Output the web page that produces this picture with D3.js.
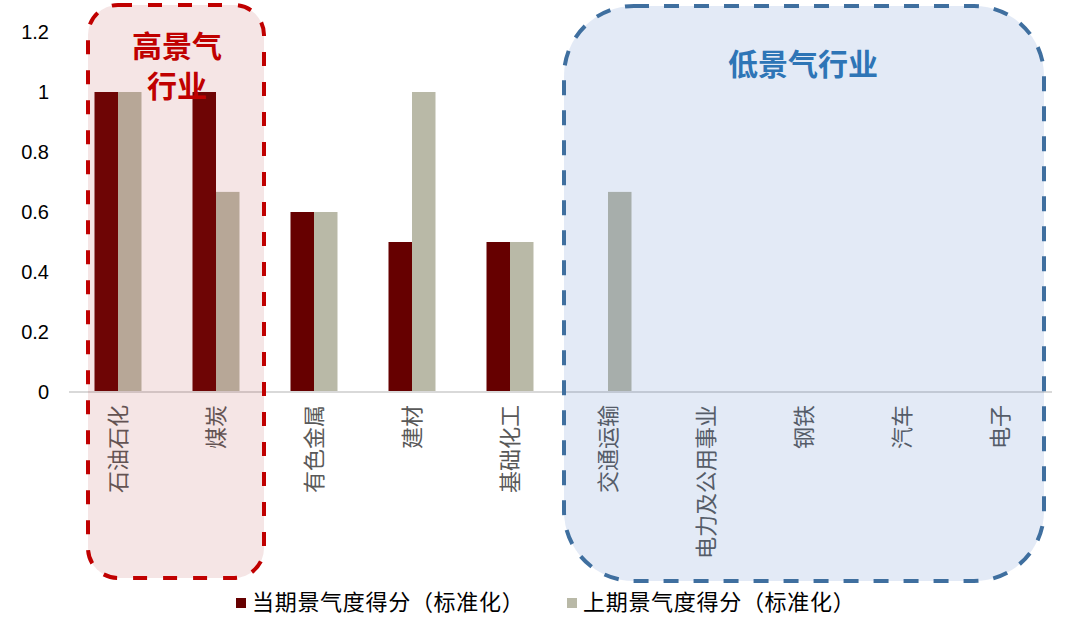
<!DOCTYPE html>
<html>
<head>
<meta charset="utf-8">
<script src="https://cdn.jsdelivr.net/npm/d3@7"></script>
<style>
  body { margin: 0; background: #fff; }
  svg { display: block; }
</style>
</head>
<body>
<div id="chart"></div>
<script>
const categories = ["石油石化", "煤炭", "有色金属", "建材", "基础化工", "交通运输", "电力及公用事业", "钢铁", "汽车", "电子"];
const currentScores = [1, 1, 0.6, 0.5, 0.5, 0, 0, 0, 0, 0];
const previousScores = [1, 0.667, 0.6, 1, 0.5, 0.667, 0, 0, 0, 0];
const seriesNames = ["当期景气度得分（标准化）", "上期景气度得分（标准化）"];
const yTicks = [0, 0.2, 0.4, 0.6, 0.8, 1, 1.2];

const width = 1080;
const height = 640;
const plotLeft = 69, plotRight = 1049, plotTop = 32, plotBottom = 392;
const cjk = "'Noto Sans CJK SC', sans-serif";

const svg = d3.select("#chart")
    .append("svg")
    .attr("width", width)
    .attr("height", height);

// scales
let x0 = d3.scaleBand()
    .domain(categories)
    .range([plotLeft, plotRight]);

let x1 = d3.scaleBand()
    .domain([0, 1])
    .range([x0.bandwidth() / 2 - 23.5, x0.bandwidth() / 2 + 23.5]);

let yScale = d3.scaleLinear()
    .domain([0, 1.2])
    .range([plotBottom, plotTop]);

const colors = ["#660000", "#b9b9a7"];

// y axis (labels only)
let yAxis = d3.axisLeft(yScale)
    .tickValues(yTicks)
    .tickSize(0)
    .tickPadding(20)
    .tickFormat(d3.format("~g"));

svg.append("g")
    .attr("transform", "translate(" + plotLeft + ",0)")
    .call(yAxis)
    .call(g => g.select(".domain").remove())
    .selectAll("text")
    .attr("font-family", "'Liberation Sans', Arial, sans-serif")
    .attr("font-size", "20px")
    .attr("fill", "#000");

// bars
const series = [currentScores, previousScores];
series.forEach((vals, s) => {
    svg.append("g")
        .selectAll("rect")
        .data(vals)
        .join("rect")
        .attr("x", (d, i) => x0(categories[i]) + x1(s))
        .attr("y", d => yScale(d))
        .attr("width", x1.bandwidth())
        .attr("height", d => yScale(0) - yScale(d))
        .attr("fill", colors[s]);
});

// x axis line
svg.append("line")
    .attr("x1", plotLeft)
    .attr("x2", plotRight + 3)
    .attr("y1", yScale(0))
    .attr("y2", yScale(0))
    .attr("stroke", "#d9d9d9")
    .attr("stroke-width", 2);

// category labels (rotated)
svg.append("g")
    .selectAll("text")
    .data(categories)
    .join("text")
    .attr("transform", d => "translate(" + (x0(d) + x0.bandwidth() / 2 + 8) + "," + (yScale(0) + 13) + ") rotate(-90)")
    .attr("text-anchor", "end")
    .attr("font-family", cjk)
    .attr("font-size", "22px")
    .attr("fill", "#595959")
    .text(d => d);

// highlight boxes drawn over the bars
let hiLeft = x0(categories[0]) + 19;
let hiRight = x0(categories[1]) + x0.bandwidth() - 1;
svg.append("rect")
    .attr("x", hiLeft)
    .attr("y", 5)
    .attr("width", hiRight - hiLeft)
    .attr("height", 573)
    .attr("rx", 30)
    .attr("fill", "rgb(175,45,45)")
    .attr("fill-opacity", 0.12)
    .attr("stroke", "#c00000")
    .attr("stroke-width", 4)
    .attr("stroke-dasharray", "14,16");

let loLeft = x0(categories[5]) + 5;
let loRight = x0(categories[9]) + x0.bandwidth() - 5;
svg.append("rect")
    .attr("x", loLeft)
    .attr("y", 6)
    .attr("width", loRight - loLeft)
    .attr("height", 575)
    .attr("rx", 70)
    .attr("fill", "#4472c4")
    .attr("fill-opacity", 0.15)
    .attr("stroke", "#3f6f9f")
    .attr("stroke-width", 4)
    .attr("stroke-dasharray", "15,15");

// box titles
let hiCenter = 177;
let hiTitle = svg.append("text")
    .attr("text-anchor", "middle")
    .attr("font-family", cjk)
    .attr("font-size", "30px")
    .attr("font-weight", "bold")
    .attr("fill", "#c00000");
hiTitle.append("tspan").attr("x", hiCenter).attr("y", 57).text("高景气");
hiTitle.append("tspan").attr("x", hiCenter).attr("y", 97).text("行业");

svg.append("text")
    .attr("x", 803)
    .attr("y", 75)
    .attr("text-anchor", "middle")
    .attr("font-family", cjk)
    .attr("font-size", "30px")
    .attr("font-weight", "bold")
    .attr("fill", "#2e75b6")
    .text("低景气行业");

// legend
const legendX = [236, 567];
let legend = svg.append("g")
    .selectAll("g")
    .data(seriesNames)
    .join("g")
    .attr("transform", (d, i) => "translate(" + legendX[i] + ",598)");

legend.append("rect")
    .attr("width", 10)
    .attr("height", 10)
    .attr("fill", (d, i) => colors[i]);

legend.append("text")
    .attr("x", 16)
    .attr("y", 12)
    .attr("font-family", cjk)
    .attr("font-size", "22px")
    .attr("letter-spacing", "0.7px")
    .attr("fill", "#000")
    .text(d => d);
</script>
</body>
</html>
